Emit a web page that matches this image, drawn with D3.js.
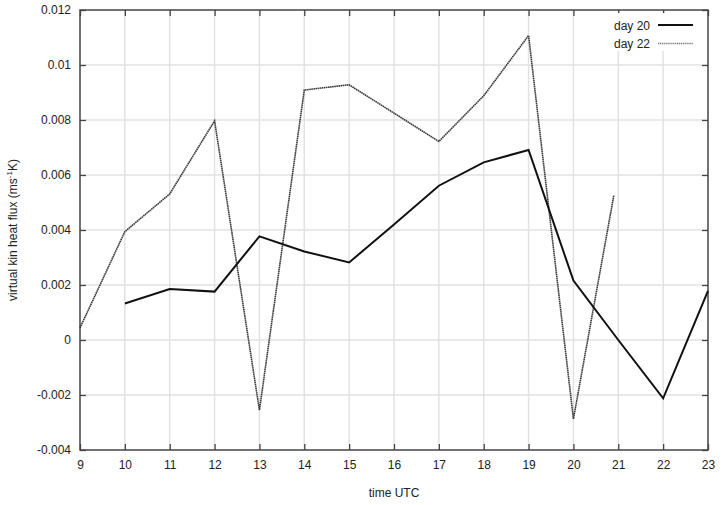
<!DOCTYPE html>
<html><head><meta charset="utf-8">
<script src="https://cdn.jsdelivr.net/npm/d3@7"></script>
<style>
body{margin:0;background:#fff;}
svg text{font-family:"Liberation Sans",Arial,sans-serif;fill:#222;}
</style></head>
<body><svg id="c" width="727" height="505"></svg>
<script>
const day20X = [10,11,12,13,14,15,16,17,18,19,20,21,22,23];
const day20Y = [0.00133,0.00185,0.00176,0.00377,0.00322,0.00282,0.0042,0.00561,0.00646,0.00691,0.00216,0.0000,-0.00212,0.00179];
const day22X = [9,10,11,12,13,14,15,17,18,19,20,20.9];
const day22Y = [0.00044,0.00394,0.00531,0.00797,-0.00255,0.00909,0.00928,0.00722,0.00888,0.01107,-0.00287,0.00525];
const xTicks = [9,10,11,12,13,14,15,16,17,18,19,20,21,22,23];
const yTicks = [-0.004,-0.002,0,0.002,0.004,0.006,0.008,0.01,0.012];
const yTickLabels = ["-0.004","-0.002","0","0.002","0.004","0.006","0.008","0.01","0.012"];
const seriesNames = ["day 20","day 22"];

const L=80,R=708,T=10,B=450;
const svg=d3.select("#c");
const x=d3.scaleLinear().domain([9,23]).range([L,R]);
const y=d3.scaleLinear().domain([-0.004,0.012]).range([B,T]);

// grid
svg.append("g").selectAll("line").data(xTicks.slice(1,-1)).join("line")
 .attr("x1",d=>x(d)).attr("x2",d=>x(d)).attr("y1",T).attr("y2",B)
 .attr("stroke","#e2e2e2").attr("stroke-width",1.5);
svg.append("g").selectAll("line").data(yTicks.slice(1,-1)).join("line")
 .attr("y1",d=>y(d)).attr("y2",d=>y(d)).attr("x1",L).attr("x2",R)
 .attr("stroke","#e2e2e2").attr("stroke-width",1.5);

// axes with inward ticks
const ax=(g,axis)=>{g.call(axis);g.select(".domain").remove();g.selectAll(".tick line").attr("stroke","#444").attr("stroke-width",1.3);};
svg.append("g").attr("transform",`translate(0,${B})`)
 .call(g=>ax(g,d3.axisBottom(x).tickValues(xTicks).tickSize(-6).tickPadding(10).tickFormat(d3.format("d"))))
 .selectAll("text").attr("font-size",12);
svg.append("g").attr("transform",`translate(0,${T})`)
 .call(g=>ax(g,d3.axisTop(x).tickValues(xTicks).tickSize(-6).tickFormat("")));
svg.append("g").attr("transform",`translate(${L},0)`)
 .call(g=>ax(g,d3.axisLeft(y).tickValues(yTicks).tickSize(-6).tickPadding(9).tickFormat((d,i)=>yTickLabels[i])))
 .selectAll("text").attr("font-size",12);
svg.append("g").attr("transform",`translate(${R},0)`)
 .call(g=>ax(g,d3.axisRight(y).tickValues(yTicks).tickSize(-6).tickFormat("")));
svg.selectAll(".tick text").attr("fill","#222").style("font-family","Liberation Sans, Arial, sans-serif");

// frame
svg.append("rect").attr("x",L).attr("y",T).attr("width",R-L).attr("height",B-T)
 .attr("fill","none").attr("stroke","#444").attr("stroke-width",1.5);

// legend box
svg.append("rect").attr("x",608).attr("y",13).attr("width",97).attr("height",38).attr("fill","#fff");

const line=d3.line().x(d=>x(d[0])).y(d=>y(d[1]));
svg.append("path").datum(day22X.map((v,i)=>[v,day22Y[i]]))
 .attr("d",line).attr("fill","none").attr("stroke","#3a3a3a").attr("stroke-width",1.6)
 .attr("stroke-dasharray","1.6,0.5");
svg.append("path").datum(day20X.map((v,i)=>[v,day20Y[i]]))
 .attr("d",line).attr("fill","none").attr("stroke","#111").attr("stroke-width",2);

// legend
const lg=svg.append("g");
seriesNames.forEach((n,i)=>{
 const yy=25+i*18.5;
 lg.append("text").attr("x",650).attr("y",yy+4.5).attr("text-anchor","end").attr("font-size",12).text(n);
 lg.append("line").attr("x1",658).attr("x2",693).attr("y1",yy).attr("y2",yy)
  .attr("stroke",i?"#777":"#111").attr("stroke-width",i?1.5:2)
  .attr("stroke-dasharray",i?"1.2,0.7":null);
});

// axis labels
svg.append("text").attr("x",(L+R)/2).attr("y",497).attr("text-anchor","middle").attr("font-size",12).text("time UTC");
const yl=svg.append("text").attr("transform",`translate(17,${(T+B)/2}) rotate(-90)`).attr("text-anchor","middle").attr("font-size",12);
yl.append("tspan").text("virtual kin heat flux (ms");
yl.append("tspan").attr("font-size",8).attr("dy",-5).text("-1");
yl.append("tspan").attr("dy",5).text("K)");
</script></body></html>
